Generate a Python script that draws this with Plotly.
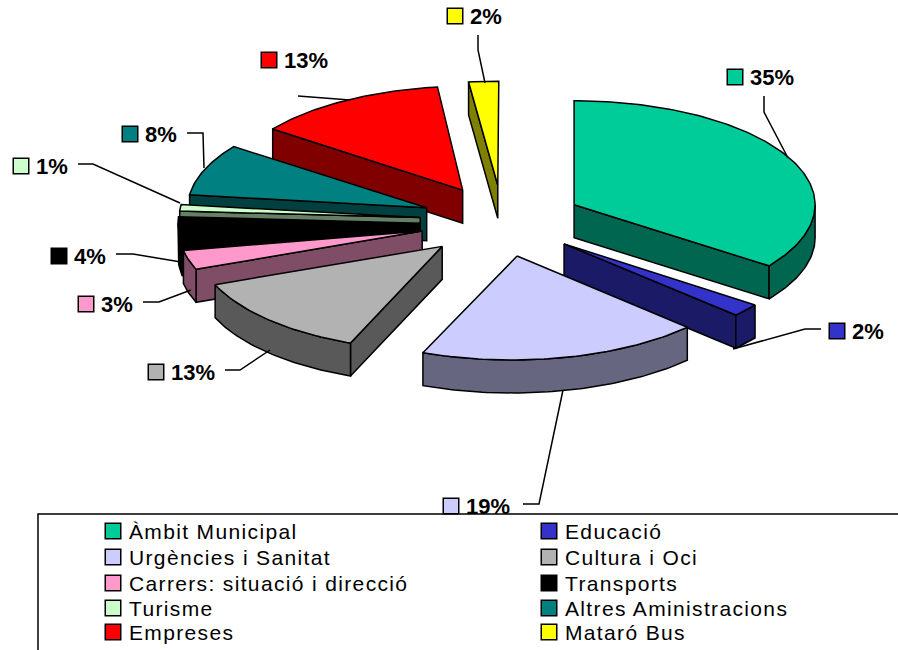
import numpy as np
import plotly.graph_objects as go

categories = ["Àmbit Municipal", "Educació", "Urgències i Sanitat", "Cultura i Oci",
              "Carrers: situació i direcció", "Transports", "Turisme",
              "Altres Aministracions", "Empreses", "Mataró Bus"]
values = [35, 2, 19, 13, 3, 4, 1, 8, 13, 2]
top_colors = ["#00CC99", "#3333CC", "#CCCCFF", "#B2B2B2", "#FF99CC",
              "#000000", "#CCFFCC", "#008080", "#FF0000", "#FFFF00"]
side_colors = ["#006650", "#1A1A66", "#666680", "#595959", "#804D66",
               "#000000", "#668066", "#004040", "#800000", "#808000"]

# pie geometry (pixel-like plot coordinates)
CX, CY, RX, RY, DEPTH, EXPLODE = 500, 221, 241, 104, 33, 0.345
PAINT_ORDER = [9, 8, 7, 6, 5, 4, 3, 0, 1, 2]
# small horizontal corrections for the original's perspective projection
apex_dx = [0, 0, -1, 1, 2, 3, 3, 4, 5, 3]
rim_dx = [0, -4, -6.5, -2, 0, 2, 3, 6, 10, 4]

label_key_x = [735, 455, 269, 130, 21, 59, 86, 156, 451, 837]
label_key_y = [77, 16, 60, 134, 166, 256, 304, 372, 506, 331]
label_order = [0, 9, 8, 7, 6, 5, 4, 3, 2, 1]
leaders = [
    ([764, 764, 788], [96, 112, 158]),
    ([478, 478, 485], [35, 50, 83]),
    ([298, 350], [96, 100]),
    ([187, 203, 204], [133, 133, 168]),
    ([78, 93, 180], [164, 164, 203]),
    ([116, 133, 181], [254, 254, 262]),
    ([143, 159, 191], [302, 302, 290]),
    ([225, 240, 270], [370, 370, 350]),
    ([523, 539, 563], [504, 504, 390]),
    ([821, 805, 733], [329, 329, 349]),
]
legend_col_x = [113, 549]
legend_row_y = [531, 557, 583, 608, 632]

fig = go.Figure()


def poly(xs, ys, fill):
    fig.add_trace(go.Scatter(x=list(xs), y=list(ys), mode="lines", fill="toself",
                             fillcolor=fill, line=dict(color="#000000", width=1.5),
                             hoverinfo="skip", showlegend=False))


total = sum(values)
edges = np.cumsum([0] + values) / total * 2 * np.pi

for i in PAINT_ORDER:
    a0, a1 = edges[i], edges[i + 1]
    mid = (a0 + a1) / 2
    base_x = CX + EXPLODE * RX * np.sin(mid)
    ax = base_x + apex_dx[i]
    ay = CY - EXPLODE * RY * np.cos(mid)
    ox = base_x + rim_dx[i]
    t = np.linspace(a0, a1, max(3, int((a1 - a0) * 60)))
    ex = ox + RX * np.sin(t)
    ey = ay - RY * np.cos(t)
    # radial side walls that face the viewer
    if np.sin(a0) < 0:
        x0, y0 = ox + RX * np.sin(a0), ay - RY * np.cos(a0)
        poly([ax, x0, x0, ax, ax], [ay, y0, y0 + DEPTH, ay + DEPTH, ay], side_colors[i])
    if np.sin(a1) > 0.01:
        x1, y1 = ox + RX * np.sin(a1), ay - RY * np.cos(a1)
        poly([ax, x1, x1, ax, ax], [ay, y1, y1 + DEPTH, ay + DEPTH, ay], side_colors[i])
    # outer rim, front half only
    lo, hi = max(a0, np.pi / 2), min(a1, 3 * np.pi / 2)
    if hi > lo:
        r = np.linspace(lo, hi, max(3, int((hi - lo) * 60)))
        rx_ = ox + RX * np.sin(r)
        ry_ = ay - RY * np.cos(r)
        poly(np.r_[rx_, rx_[::-1], rx_[0]], np.r_[ry_, ry_[::-1] + DEPTH, ry_[0]], side_colors[i])
    # top face
    poly(np.r_[ax, ex, ax], np.r_[ay, ey, ay], top_colors[i])

# leader lines
for lx, ly in leaders:
    fig.add_trace(go.Scatter(x=lx, y=ly, mode="lines", line=dict(color="#000000", width=1.5),
                             hoverinfo="skip", showlegend=False))

# data label keys and text
ann = []
kc = [top_colors[i] for i in label_order]
fig.add_trace(go.Scatter(x=label_key_x, y=label_key_y, mode="markers",
                         marker=dict(symbol="square", size=15.5, color=kc,
                                     line=dict(color="#000000", width=1.5)),
                         hoverinfo="skip", showlegend=False))
for k, i in enumerate(label_order):
    ann.append(dict(x=label_key_x[k] + 13, y=label_key_y[k], text=f"<b>{values[i]}%</b>",
                    xanchor="left", yanchor="middle", showarrow=False, align="left",
                    font=dict(family="Liberation Sans", size=22, color="#000000")))

# legend
lx, ly, lc = [], [], []
for i, name in enumerate(categories):
    x = legend_col_x[i % 2]
    y = legend_row_y[i // 2]
    lx.append(x)
    ly.append(y)
    lc.append(top_colors[i])
    ann.append(dict(x=x + 14, y=y, text=name, xanchor="left", yanchor="middle", showarrow=False,
                    align="left",
                    font=dict(family="Liberation Sans", size=21, color="#000000")))
fig.add_trace(go.Scatter(x=lx, y=ly, mode="markers",
                         marker=dict(symbol="square", size=15.5, color=lc,
                                     line=dict(color="#000000", width=1.5)),
                         hoverinfo="skip", showlegend=False))

fig.add_trace(go.Scatter(x=[38, 38, 898], y=[650, 514, 514], mode="lines",
                         line=dict(color="#000000", width=1.5),
                         hoverinfo="skip", showlegend=False))

fig.update_layout(
    width=898, height=650, autosize=False, margin=dict(l=0, r=0, t=0, b=0),
    paper_bgcolor="#FFFFFF", plot_bgcolor="#FFFFFF", showlegend=False, annotations=ann,
    xaxis=dict(range=[0, 898], visible=False, fixedrange=True),
    yaxis=dict(range=[650, 0], visible=False, fixedrange=True),
)
post = """
document.body.style.margin = '0';
document.querySelectorAll('.annotation').forEach(function (a) {
  if (+a.getAttribute('data-index') >= 10) {
    a.querySelectorAll('text').forEach(function (t) { t.style.letterSpacing = '1.35px'; });
  }
});
"""
fig.write_html("out.html", config={"displayModeBar": False}, post_script=post)
